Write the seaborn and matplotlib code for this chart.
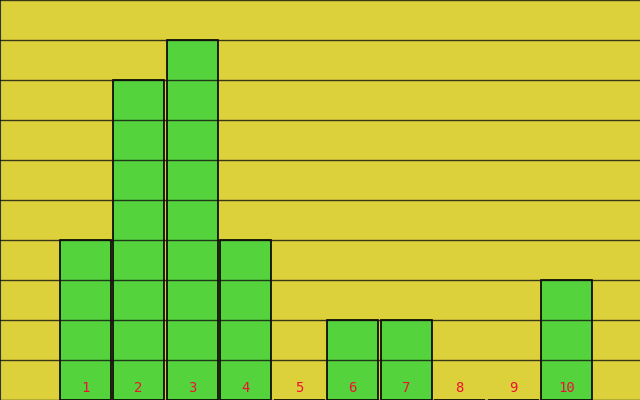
import matplotlib
matplotlib.use('Agg')
import matplotlib.pyplot as plt
import seaborn as sns
import pandas as pd

# bar values
slots = [1, 2, 3, 4, 5, 6, 7, 8, 9, 10]
counts = [4, 8, 9, 4, 0, 2, 2, 0, 0, 3]
labels = ['1', '2', '3', '4', '5', '6', '7', '8', '9', '10']

df = pd.DataFrame({'slot': slots, 'count': counts})

sns.set_style('white')
fig = plt.figure(figsize=(6.4, 4.0), dpi=100)
fig.patch.set_facecolor('#DDD13B')
ax = fig.add_axes([0, 0, 1, 1])
ax.set_facecolor('#DDD13B')

sns.barplot(data=df, x='slot', y='count', native_scale=True, width=0.95,
            color='#55D33D', saturation=1, edgecolor='black', linewidth=1.2, ax=ax)

ax.set_xlim(-0.59, 11.37)
ax.set_ylim(0, 10)

for y in range(0, 11):
    ax.axhline(y, color='#111111', linewidth=1, alpha=0.8, zorder=5)

for s, lab in zip(slots, labels):
    ax.text(s, 0.3, lab, color='#EE1133', ha='center', va='center',
            fontsize=10, family='DejaVu Sans Mono', zorder=6)

ax.set_xticks([])
ax.set_yticks([])
ax.set_xlabel('')
ax.set_ylabel('')
for sp in ax.spines.values():
    sp.set_visible(False)
ax.spines['left'].set_visible(True)
ax.spines['left'].set_color('#333333')
ax.spines['bottom'].set_visible(True)
ax.spines['bottom'].set_color('#333333')

fig.savefig('out.png', dpi=100, facecolor=fig.get_facecolor())
